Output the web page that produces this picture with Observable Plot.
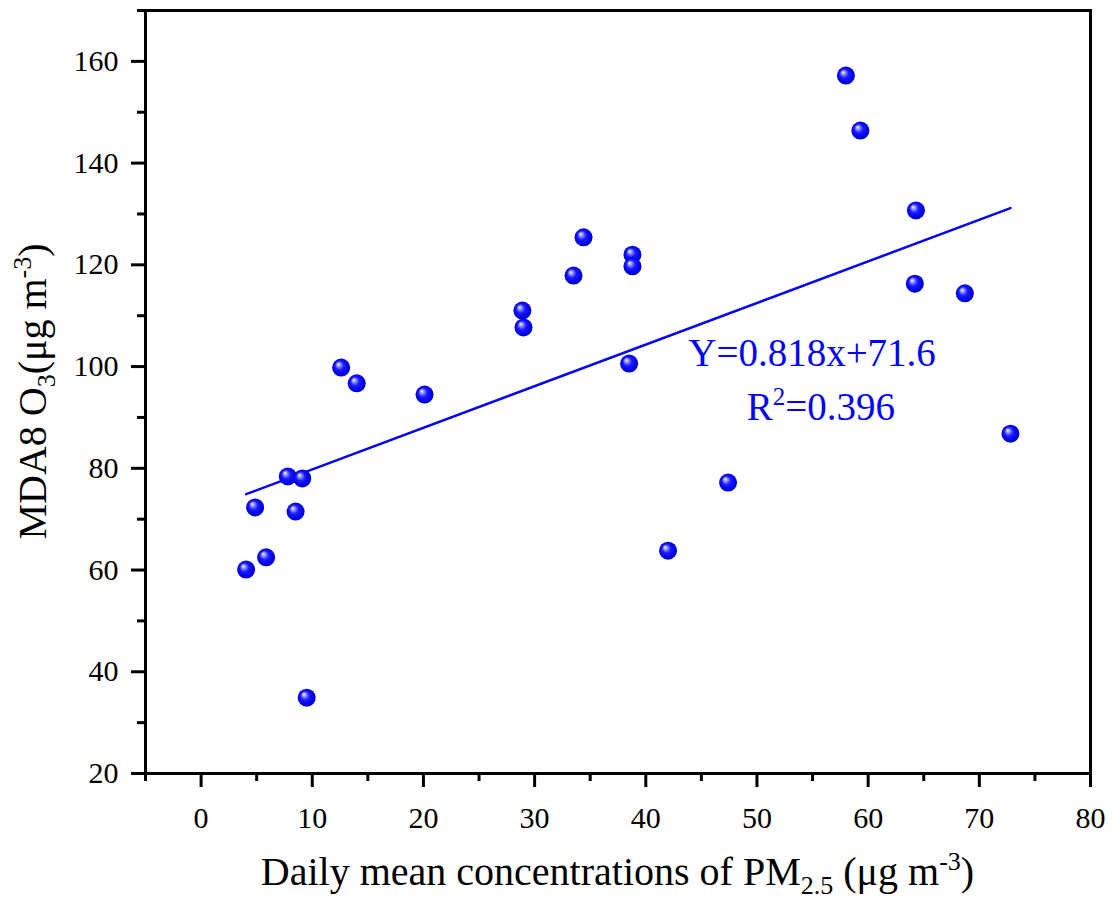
<!DOCTYPE html>
<html>
<head>
<meta charset="utf-8">
<script src="https://cdn.jsdelivr.net/npm/d3@7"></script>
<script src="https://cdn.jsdelivr.net/npm/@observablehq/plot@0.6"></script>
<style>
  html, body { margin: 0; padding: 0; background: white; }
  #chart svg { display: block; }
</style>
</head>
<body>
<div id="chart"></div>
<script>
// Daily mean PM2.5 (µg m-3) and MDA8 O3 (µg m-3)
const pm25 = [4.05, 4.86, 5.85, 7.8, 9.1, 8.5, 9.5, 12.6, 14.0, 20.1, 28.9, 29.0, 33.5, 34.4, 38.8, 38.8, 38.5, 42.0, 47.4, 58.0, 59.3, 64.3, 64.2, 68.7, 72.8];
const o3   = [60.1, 72.3, 62.5, 78.4, 78.0, 71.5, 34.9, 99.8, 96.7, 94.5, 111.0, 107.7, 117.9, 125.4, 122.0, 119.7, 100.6, 63.8, 77.2, 157.2, 146.4, 130.7, 116.3, 114.4, 86.8];

// Fitted line as printed on the chart
const fitSlope = 0.818;
const fitIntercept = 71.6;
const fitXRange = [4.05, 72.8];

// Ticks
const xMajor = [0, 10, 20, 30, 40, 50, 60, 70, 80];
const xMinor = [-5, 5, 15, 25, 35, 45, 55, 65, 75];
const yMajor = [20, 40, 60, 80, 100, 120, 140, 160];
const yMinor = [30, 50, 70, 90, 110, 130, 150, 170];

// Annotation text and anchor (data coordinates)
const eqText = "Y=0.818x+71.6";
const r2Value = "=0.396";
const eqPos = [55.0, 100.0];
const r2Pos = [55.8, 89.4];

const points = pm25.map((x, i) => ({x, y: o3[i]}));
const fitLine = fitXRange.map(x => ({x, y: fitSlope * x + fitIntercept}));

const serif = "'Liberation Serif', 'Times New Roman', serif";

const plot = Plot.plot({
  width: 1117,
  height: 904,
  marginLeft: 145,
  marginRight: 27,
  marginTop: 10,
  marginBottom: 131,
  x: {domain: [-5, 80], label: null},
  y: {domain: [20, 170], label: null},
  style: {fontFamily: serif, fontSize: "30px", background: "white", color: "black", overflow: "visible"},
  marks: [
    Plot.axisX(xMinor, {tickSize: 8, strokeWidth: 3, tickFormat: () => "", label: null}),
    Plot.axisX(xMajor, {tickSize: 14, strokeWidth: 3, tickPadding: 19, label: null, fontSize: 30}),
    Plot.axisY(yMinor, {tickSize: 8, strokeWidth: 3, tickFormat: () => "", label: null}),
    Plot.axisY(yMajor, {tickSize: 14, strokeWidth: 3, tickPadding: 13, label: null, fontSize: 30}),
    Plot.line(fitLine, {x: "x", y: "y", stroke: "#0505f5", strokeWidth: 2.5}),
    Plot.dot(points, {x: "x", y: "y", r: 9, fill: "url(#ball)", stroke: "none"}),
    Plot.frame({stroke: "black", strokeWidth: 3})
  ]
});

const svg = d3.select(plot);
const defs = svg.insert("defs", ":first-child");
const g = defs.append("radialGradient").attr("id", "ball")
  .attr("cx", "0.5").attr("cy", "0.5").attr("r", "0.55")
  .attr("fx", "0.33").attr("fy", "0.3");
g.append("stop").attr("offset", "0%").attr("stop-color", "#ffffff");
g.append("stop").attr("offset", "18%").attr("stop-color", "#9a9aff");
g.append("stop").attr("offset", "45%").attr("stop-color", "#1a1aff");
g.append("stop").attr("offset", "80%").attr("stop-color", "#0000e6");
g.append("stop").attr("offset", "100%").attr("stop-color", "#0000a8");

const sx = plot.scale("x"), sy = plot.scale("y");

// X axis title
const xt = svg.append("text")
  .attr("x", (145 + 1090) / 2).attr("y", 885)
  .attr("text-anchor", "middle")
  .attr("font-family", serif).attr("font-size", 40).attr("fill", "black");
xt.append("tspan").text("Daily mean concentrations of PM");
xt.append("tspan").attr("font-size", 26).attr("dy", 9).text("2.5");
xt.append("tspan").attr("dy", -9).text(" (μg m");
xt.append("tspan").attr("font-size", 26).attr("dy", -15).text("-3");
xt.append("tspan").attr("dy", 15).text(")");

// Y axis title
const yt = svg.append("text")
  .attr("transform", `translate(46,${(10 + 773) / 2}) rotate(-90)`)
  .attr("text-anchor", "middle")
  .attr("font-family", serif).attr("font-size", 40).attr("fill", "black");
yt.append("tspan").text("MDA8 O");
yt.append("tspan").attr("font-size", 26).attr("dy", 9).text("3");
yt.append("tspan").attr("dy", -9).text("(μg m");
yt.append("tspan").attr("font-size", 26).attr("dy", -15).text("-3");
yt.append("tspan").attr("dy", 15).text(")");

// Regression annotation
svg.append("text")
  .attr("x", sx.apply(eqPos[0])).attr("y", sy.apply(eqPos[1]))
  .attr("text-anchor", "middle")
  .attr("font-family", serif).attr("font-size", 39).attr("fill", "#0505f5")
  .text(eqText);
const r2 = svg.append("text")
  .attr("x", sx.apply(r2Pos[0])).attr("y", sy.apply(r2Pos[1]))
  .attr("text-anchor", "middle")
  .attr("font-family", serif).attr("font-size", 39).attr("fill", "#0505f5");
r2.append("tspan").text("R");
r2.append("tspan").attr("font-size", 25).attr("dy", -15).text("2");
r2.append("tspan").attr("dy", 15).text(r2Value);

document.getElementById("chart").appendChild(plot);
</script>
</body>
</html>
